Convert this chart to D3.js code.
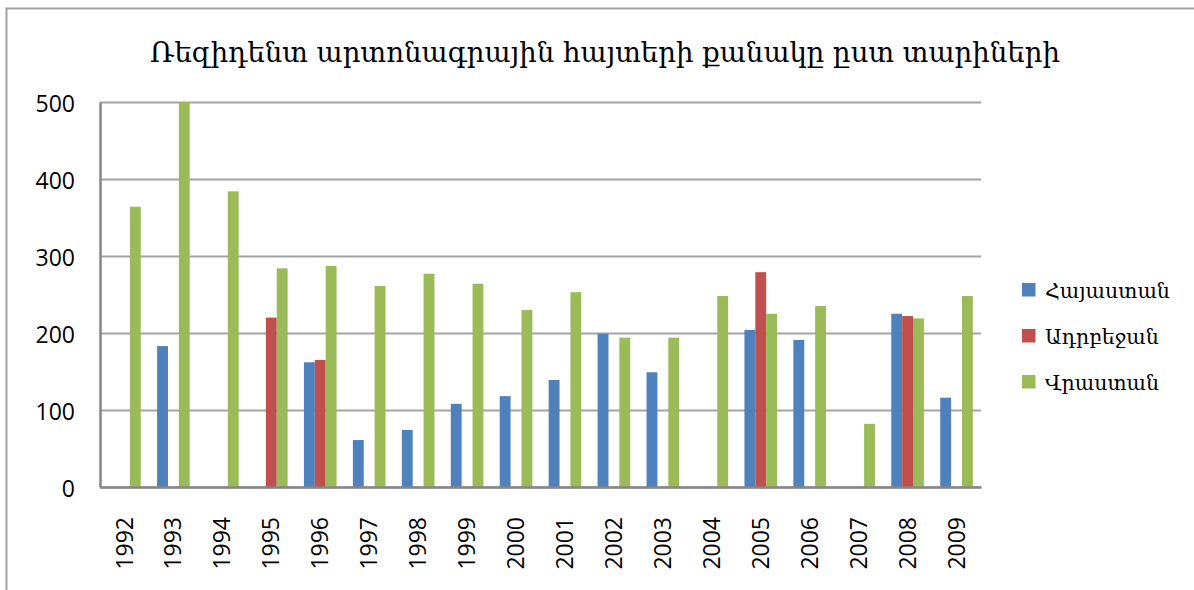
<!DOCTYPE html>
<html>
<head>
<meta charset="utf-8">
<script src="https://cdn.jsdelivr.net/npm/d3@7"></script>
<style>
html,body{margin:0;padding:0;background:#fff;}
svg{display:block;}
</style>
</head>
<body>
<svg id="chart" width="1194" height="590"></svg>
<script>
const titleText = "Ռեզիդենտ արտոնագրային հայտերի քանակը ըստ տարիների";
const years = ["1992","1993","1994","1995","1996","1997","1998","1999","2000","2001","2002","2003","2004","2005","2006","2007","2008","2009"];
const seriesNames = ["Հայաստան","Ադրբեջան","Վրաստան"];
const armenia    = [null,183,null,null,162,61,74,108,118,139,199,149,null,204,191,null,225,116];
const azerbaijan = [null,null,null,220,165,null,null,null,null,null,null,null,null,279,null,null,222,null];
const georgia    = [364,500,384,284,287,261,277,264,230,253,194,194,248,225,235,82,219,248];
const yTicks = [0,100,200,300,400,500];
const colors = ["#4F81BD","#C0504D","#9BBB59"];

(function(){
const seriesValues = [armenia, azerbaijan, georgia];
const svg = d3.select("#chart");

// outer border
svg.append("rect").attr("x",6.5).attr("y",8.5).attr("width",1250).attr("height",650)
  .attr("fill","none").attr("stroke","#a0a0a0").attr("stroke-width",2);

const pLeft = 100, pRight = 981, pTop = 102, pBottom = 487;
const x0 = d3.scaleBand().domain(years).range([pLeft,pRight]).paddingInner(0).paddingOuter(0);
const bw = x0.bandwidth()/4.5;
const x1 = d3.scaleBand().domain(d3.range(3)).range([0, bw*3]);
const y = d3.scaleLinear().domain([0,500]).range([pBottom, pTop]);

// gridlines
const grid = svg.append("g").attr("transform",`translate(${pLeft},0)`)
  .call(d3.axisLeft(y).tickValues(yTicks).tickSize(-(pRight-pLeft)).tickFormat(""));
grid.select(".domain").remove();
grid.selectAll("line").attr("stroke","#a3a3a3").attr("stroke-width",2);

// bars
const data = [];
years.forEach((yr,i)=>{
  seriesValues.forEach((vals,s)=>{
    if(vals[i]!=null) data.push({yr, s, v: vals[i]});
  });
});
svg.append("g").selectAll("rect").data(data).enter().append("rect")
  .attr("x", d => x0(d.yr) + (x0.bandwidth()-bw*3)/2 + x1(d.s))
  .attr("width", x1.bandwidth())
  .attr("y", d => y(d.v))
  .attr("height", d => y(0)-y(d.v))
  .attr("fill", d => colors[d.s]);

// y axis
const yAxis = svg.append("g").attr("transform",`translate(${pLeft},0)`)
  .call(d3.axisLeft(y).tickValues(yTicks).tickSize(0).tickPadding(25));
yAxis.select(".domain").attr("stroke","#868686").attr("stroke-width",2.5);
yAxis.selectAll("text").attr("font-family","'Open Sans', sans-serif").attr("font-size","23px")
  .attr("fill","#000").attr("dy","0.42em");

// x axis
const xAxis = svg.append("g").attr("transform",`translate(0,${pBottom})`)
  .call(d3.axisBottom(x0).tickSize(0).tickSizeOuter(0));
xAxis.select(".domain").attr("stroke","#868686").attr("stroke-width",2.5);
xAxis.selectAll("text")
  .attr("font-family","'Open Sans', sans-serif").attr("font-size","23px").attr("fill","#000")
  .attr("text-anchor","end")
  .attr("transform","rotate(-90)")
  .attr("x",-30).attr("y",0).attr("dy","0.35em");

// title
const title = svg.append("text").attr("x",605).attr("y",62).attr("text-anchor","middle")
  .attr("font-family","'DejaVu Serif', serif").attr("font-size","28px").attr("fill","#000")
  .text(titleText);
const tw = title.node().getComputedTextLength();
title.attr("font-size", (28*910/tw).toFixed(2)+"px");

// legend
const legend = svg.append("g");
seriesNames.forEach((name,i)=>{
  const gy = 283 + i*46;
  legend.append("rect").attr("x",1022).attr("y",gy).attr("width",13.5).attr("height",13.5).attr("fill",colors[i]);
  legend.append("text").attr("x",1045).attr("y",gy+15)
    .attr("font-family","'DejaVu Serif', serif").attr("font-size","22px").attr("fill","#000").text(name);
});
const lt = legend.select("text").node().getComputedTextLength();
legend.selectAll("text").attr("font-size", (22*125/lt).toFixed(2)+"px");
})();
</script>
</body>
</html>
